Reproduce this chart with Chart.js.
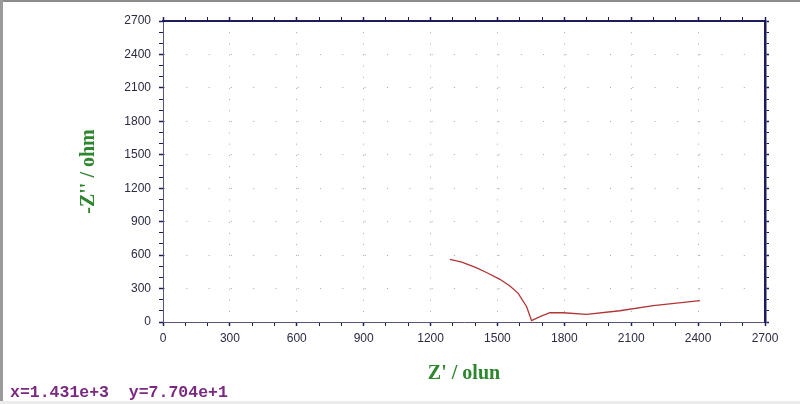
<!DOCTYPE html>
<html>
<head>
<meta charset="utf-8">
<script src="https://cdn.jsdelivr.net/npm/chart.js@4"></script>
<style>
  html, body { margin: 0; padding: 0; background: #fff; }
  #wrap { position: relative; width: 800px; height: 404px; overflow: hidden; }
  #frameTop { position: absolute; left: 0; top: 0; width: 800px; height: 2px; background: #8c8c8c; }
  #frameLeft { position: absolute; left: 0; top: 0; width: 3px; height: 404px; background: #9a9a9a; }
  #frameBottom { position: absolute; left: 0; top: 401px; width: 800px; height: 3px; background: #ececec; }
  #status {
    position: absolute; left: 10px; top: 383px;
    font: bold 16.5px "Liberation Mono", "DejaVu Sans Mono", monospace;
    color: #7a2a80; white-space: pre;
  }
</style>
</head>
<body>
<div id="wrap">
  <canvas id="chart" width="800" height="404"></canvas>
  <div id="frameTop"></div>
  <div id="frameLeft"></div>
  <div id="frameBottom"></div>
  <div id="status">x=1.431e+3  y=7.704e+1</div>
</div>
<script>
// impedance data (ohm)
const zReal = [1287, 1340, 1399, 1451, 1511, 1556, 1593, 1631, 1653, 1691, 1735, 1795, 1900, 2049, 2199, 2408]
const zImag = [562, 538, 492, 444, 383, 323, 257, 137, 12, 48, 83, 83, 69, 101, 146, 191]

const axisMin = 0
const axisMax = 2700
const majorStep = 300
const minorStep = 100

const titleGreen = '#2e862e'
const navy = '#1c1c5c'
const tickText = '#2a2a44'

const points = zReal.map((x, i) => ({ x: x, y: zImag[i] }))

const isMajor = (v) => v % majorStep === 0

// shared tick/grid setup for the four axes
function axis(position) {
  return {
    type: 'linear',
    position: position,
    min: axisMin,
    max: axisMax,
    ticks: {
      stepSize: minorStep,
      autoSkip: false,
      maxRotation: 0,
      color: tickText,
      font: { family: 'Liberation Sans, Arial, sans-serif', size: 12 },
      callback: (v) => isMajor(v) ? String(v) : ''
    },
    grid: {
      drawOnChartArea: false,
      tickLength: 4,
      tickColor: navy,
      tickWidth: (ctx) => ctx.tick && isMajor(ctx.tick.value) ? 1.5 : 1
    },
    border: { color: '#55557a', width: 1 }
  }
}

// dotted grid only on the major values inside the plot
const gridDots = (ctx) => ctx.tick && isMajor(ctx.tick.value) && ctx.tick.value > 0 && ctx.tick.value < axisMax ? '#a8a8a8' : 'rgba(0,0,0,0)'

const xBottom = axis('bottom')
xBottom.ticks.padding = 5
xBottom.grid.drawOnChartArea = true
xBottom.grid.color = gridDots
xBottom.border.dash = [1, 10.15]
xBottom.title = {
  display: true,
  text: "Z' / olun",
  color: titleGreen,
  font: { family: 'Liberation Serif, Times New Roman, serif', size: 20, weight: 'bold' },
  padding: { top: 0, bottom: 18 }
}
xBottom.afterFit = (s) => { s.height = 82 }

const yLeft = axis('left')
yLeft.ticks.padding = 8
yLeft.grid.drawOnChartArea = true
yLeft.grid.color = gridDots
yLeft.border.dash = [1, 21.3]
yLeft.title = {
  display: true,
  text: "-Z'' / ohm",
  color: titleGreen,
  font: { family: 'Liberation Serif, Times New Roman, serif', size: 20, weight: 'bold' },
  padding: { top: 77, bottom: 0 }
}
yLeft.afterFit = (s) => { s.width = 163 }

const xTop = axis('top')
xTop.ticks.display = false
xTop.border = { color: navy, width: 2 }
xTop.afterFit = (s) => { s.height = 21 }

const yRight = axis('right')
yRight.ticks.display = false
yRight.border = { color: navy, width: 2.5 }
yRight.afterFit = (s) => { s.width = 35 }

new Chart(document.getElementById('chart'), {
  type: 'line',
  data: {
    datasets: [{
      data: points,
      borderColor: '#b23434',
      borderWidth: 1.3,
      pointRadius: 0,
      tension: 0,
      fill: false
    }]
  },
  options: {
    responsive: false,
    animation: false,
    layout: { padding: 0 },
    plugins: { legend: { display: false }, tooltip: { enabled: false } },
    scales: {
      x: xBottom,
      y: yLeft,
      x2: xTop,
      y2: yRight
    }
  }
})
</script>
</body>
</html>
